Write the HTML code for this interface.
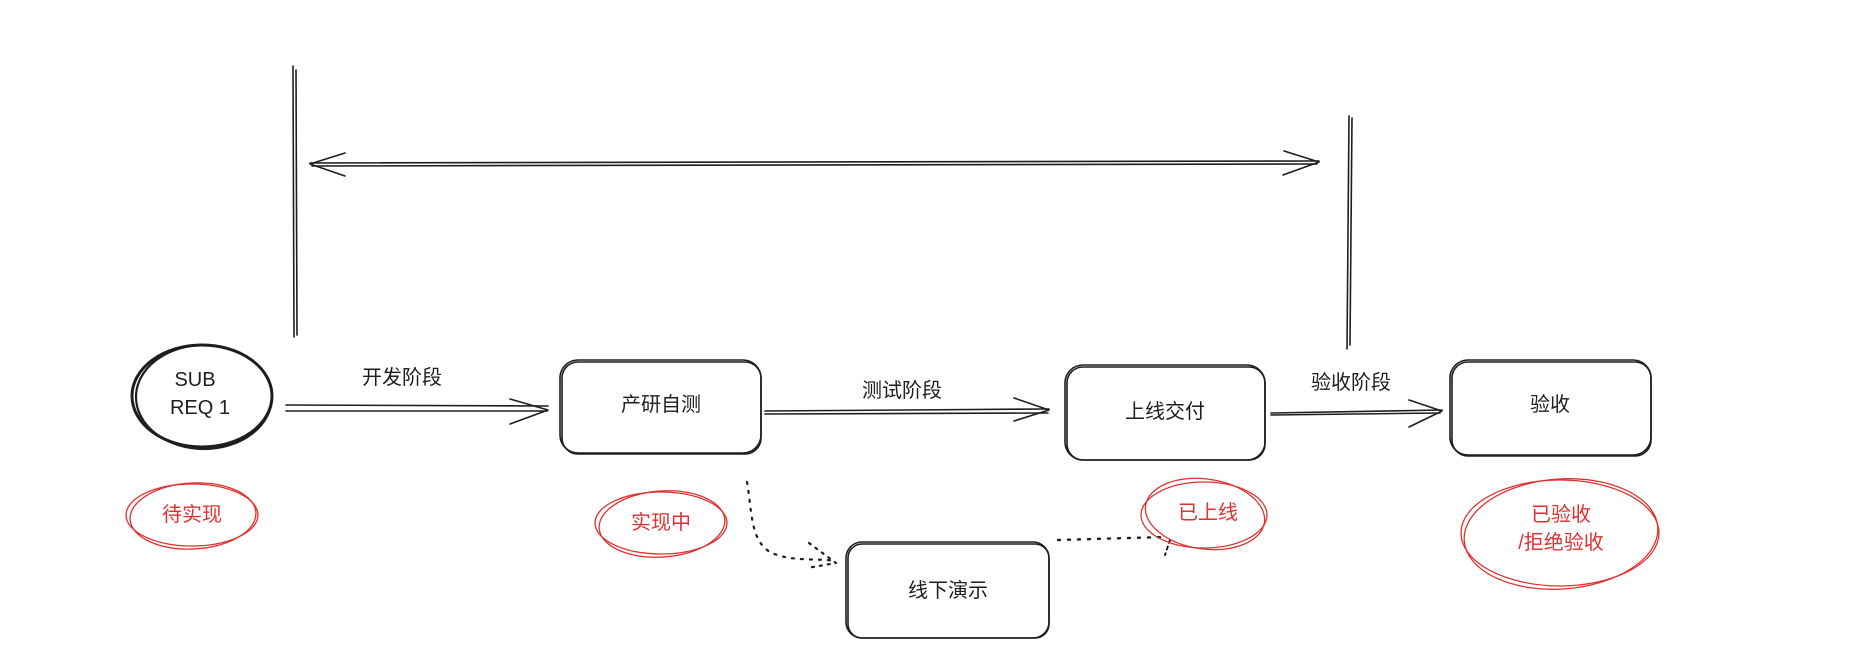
<!DOCTYPE html>
<html><head><meta charset="utf-8"><style>
html,body{margin:0;padding:0;background:#fff;}
svg{display:block;}
text{font-family:"Liberation Sans","Noto Sans CJK SC",sans-serif;}
</style></head><body>
<svg width="1866" height="656" viewBox="0 0 1866 656" xmlns="http://www.w3.org/2000/svg">
<g fill="none" stroke="#1e1e1e" stroke-width="1.6" stroke-linecap="round" stroke-linejoin="round">
<!-- vertical lines -->
<path d="M293 66 L294 337"/><path d="M296 70 L297 335"/>
<path d="M1349 116 L1347 349"/><path d="M1352 118 L1350 345"/>
<!-- top double arrow -->
<path d="M310 163 L1319 161"/><path d="M312 166 L1317 164"/>
<path d="M345 153 L310 164 L345 176"/>
<path d="M1284 151 L1319 162 L1283 175"/>
<!-- SUB REQ circle -->
<ellipse cx="202" cy="396" rx="70" ry="51" stroke-width="3"/>
<ellipse cx="204" cy="397" rx="68" ry="52" stroke-width="2.2"/>
<!-- arrow 开发阶段 -->
<path d="M286 405 L548 406"/><path d="M286 411 L547 411"/>
<path d="M510 399 L548 410 L510 424"/>
<!-- box 产研自测 -->
<rect x="560" y="360" width="201" height="93" rx="18"/>
<rect x="562" y="362" width="199" height="92" rx="16"/>
<!-- arrow 测试阶段 -->
<path d="M765 411 L1049 409"/><path d="M765 414 L1048 413"/>
<path d="M1014 398 L1049 410 L1014 421"/>
<!-- box 上线交付 -->
<rect x="1065" y="365" width="200" height="95" rx="18"/>
<rect x="1067" y="367" width="198" height="93" rx="16"/>
<!-- arrow 验收阶段 -->
<path d="M1271 413 L1442 410"/><path d="M1271 415 L1440 413"/>
<path d="M1409 400 L1442 411 L1409 427"/>
<!-- box 验收 -->
<rect x="1450" y="360" width="201" height="95" rx="18"/>
<rect x="1452" y="362" width="199" height="94" rx="16"/>
<!-- box 线下演示 -->
<rect x="846" y="542" width="203" height="96" rx="16"/>
<rect x="848" y="544" width="201" height="94" rx="14"/>
<!-- dotted connectors -->
<path d="M747 482 C752 510, 750 540, 770 552 C790 562, 815 558, 836 561" stroke-dasharray="2 7" stroke-width="2.2"/>
<path d="M809 543 L836 563 L807 568" stroke-dasharray="2 6" stroke-width="2.2"/>
<path d="M1058 540 L1165 537" stroke-dasharray="2 8" stroke-width="2.4"/>
<path d="M1170 540 L1165 555" stroke-dasharray="3 4" stroke-width="2"/>
</g>
<g fill="none" stroke="#e03131" stroke-width="1.3">
<ellipse cx="192" cy="515" rx="66" ry="31"/><ellipse cx="193" cy="516" rx="63" ry="33" transform="rotate(-3 193 516)"/>
<ellipse cx="661" cy="523" rx="66" ry="31"/><ellipse cx="662" cy="524" rx="63" ry="33" transform="rotate(-4 662 524)"/>
<ellipse cx="1204" cy="515" rx="63" ry="33"/><ellipse cx="1205" cy="514" rx="60" ry="35" transform="rotate(8 1205 514)"/>
<ellipse cx="1560" cy="533" rx="99" ry="53"/><ellipse cx="1561" cy="534" rx="97" ry="55" transform="rotate(-4 1561 534)"/>
</g>
<g fill="#1e1e1e" font-size="20" text-anchor="middle" dominant-baseline="central">
<text x="195" y="380">SUB</text>
<text x="200" y="408">REQ  1</text>
<text x="402" y="378">开发阶段</text>
<text x="661" y="405">产研自测</text>
<text x="902" y="391">测试阶段</text>
<text x="1165" y="412">上线交付</text>
<text x="1351" y="383">验收阶段</text>
<text x="1550" y="405">验收</text>
<text x="948" y="591">线下演示</text>
</g>
<g fill="#e03131" font-size="20" text-anchor="middle" dominant-baseline="central">
<text x="192" y="515">待实现</text>
<text x="661" y="523">实现中</text>
<text x="1208" y="513">已上线</text>
<text x="1561" y="515">已验收</text>
<text x="1561" y="543">/拒绝验收</text>
</g>
</svg>
</body></html>
